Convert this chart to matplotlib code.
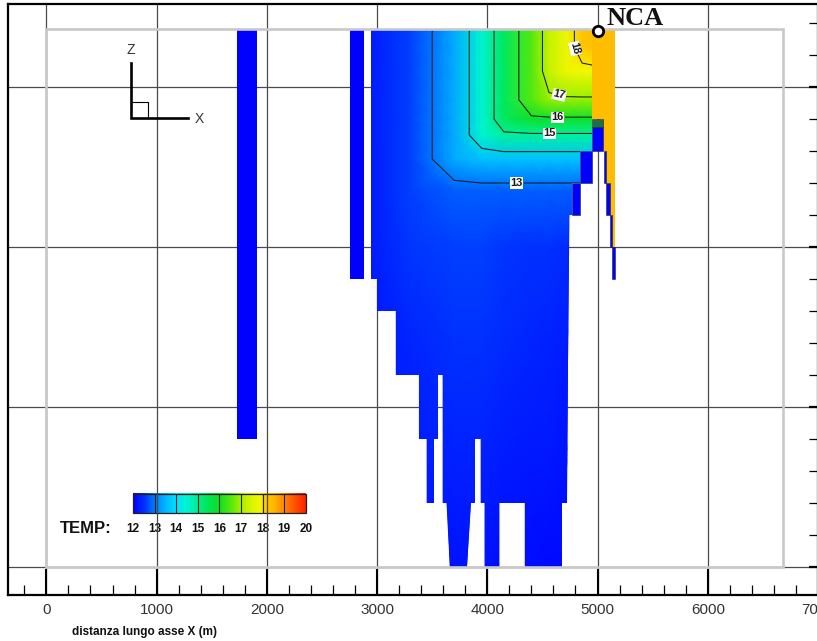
import numpy as np
import matplotlib
matplotlib.use("Agg")
import matplotlib.pyplot as plt
from matplotlib.colors import LinearSegmentedColormap, Normalize
from matplotlib.patches import Polygon, Rectangle
from matplotlib.ticker import MultipleLocator

plt.rcParams['font.family'] = ['Liberation Sans', 'DejaVu Sans']

# temperature scale (deg C)
temp_levels = [12, 13, 14, 15, 16, 17, 18, 19, 20]
plain_levels = [14]
label_levels = [13, 15, 16, 17, 18]
# where the contour labels sit (x m, z m)
label_spots = [(4266, -56), (4565, -26), (4638, -15), (4683, 3), (4792, 24)]

grid_x = [2945, 3300, 3700, 3950, 4150, 4400, 4560, 4720, 4860, 4950]
grid_z = [36, 25, 10, -8, -20, -30, -45, -65, -100, -160, -230, -300]
grid_temp = [
    [12.3, 12.6, 13.4, 14.5, 15.4, 16.5, 17.3, 17.8, 18.2, 18.4],
    [12.3, 12.6, 13.4, 14.5, 15.4, 16.5, 17.3, 17.8, 18.2, 18.3],
    [12.3, 12.6, 13.4, 14.5, 15.4, 16.5, 17.3, 17.8, 17.9, 17.9],
    [12.3, 12.6, 13.4, 14.5, 15.4, 16.5, 16.9, 16.9, 16.9, 16.9],
    [12.3, 12.6, 13.4, 14.5, 15.4, 15.9, 15.9, 15.9, 15.9, 15.9],
    [12.3, 12.6, 13.4, 14.5, 14.9, 14.9, 14.9, 14.9, 14.9, 14.9],
    [12.3, 12.6, 13.4, 13.6, 13.6, 13.6, 13.6, 13.6, 13.6, 13.6],
    [12.3, 12.6, 12.8, 12.8, 12.8, 12.8, 12.8, 12.8, 12.8, 12.8],
    [12.3, 12.55, 12.6, 12.6, 12.55, 12.5, 12.5, 12.45, 12.4, 12.4],
    [12.25, 12.4, 12.5, 12.5, 12.45, 12.4, 12.35, 12.3, 12.3, 12.3],
    [12.2, 12.3, 12.35, 12.35, 12.3, 12.25, 12.25, 12.2, 12.2, 12.2],
    [12.1, 12.15, 12.2, 12.2, 12.15, 12.15, 12.1, 12.1, 12.1, 12.1],
]

# outline of the main active body (x m, z m)
body_x = [2945, 4950, 4950, 4840, 4840, 4765, 4765, 4745, 4720, 4675, 4675,
          4340, 4340, 4110, 4110, 3975, 3975, 3940, 3940, 3885, 3885, 3850,
          3815, 3660, 3630, 3595, 3595, 3550, 3550, 3515, 3515, 3450, 3450,
          3380, 3380, 3170, 3170, 3000, 3000, 2945]
body_z = [36, 36, -40, -40, -60, -60, -80, -80, -260, -260, -300,
          -300, -260, -260, -300, -300, -260, -260, -220, -220, -260, -260,
          -300, -300, -260, -260, -180, -180, -220, -220, -260, -260, -220,
          -220, -180, -180, -140, -140, -120, -120]

# isolated cold columns
col_x0 = [1730, 2750]
col_x1 = [1910, 2880]
col_top = [36, 36]
col_bot = [-220, -120]

# cold cells next to the well
cell_x0 = [4950, 4840, 4765, 5055, 5080, 5110, 5135]
cell_x1 = [5050, 4950, 4840, 5080, 5110, 5135, 5160]
cell_top = [-25, -40, -60, -40, -60, -80, -100]
cell_bot = [-40, -60, -80, -60, -80, -100, -120]

# hot column along the NCA well
hot_x0 = [4950, 5050, 5080, 5110, 5135]
hot_x1 = [5160, 5160, 5160, 5160, 5155]
hot_top = [36, -20, -40, -60, -80]
hot_bot = [-20, -40, -60, -80, -100]
hot_temp = 18.4

well_x, well_z = 5000, 35

cmap = LinearSegmentedColormap.from_list("temp", [
    (0.0, "#0000ff"), (0.0625, "#0030ff"), (0.125, "#0080ff"),
    (0.1875, "#00b8ff"), (0.25, "#00e4ff"), (0.3125, "#00f4d0"),
    (0.375, "#00ee90"), (0.4375, "#00e650"), (0.5, "#10e020"),
    (0.5625, "#50e810"), (0.625, "#a8f000"), (0.6875, "#dcf400"),
    (0.74, "#f4f800"), (0.75, "#ffd000"), (0.8125, "#ffb800"),
    (0.875, "#ff8800"), (0.9375, "#ff5000"), (1.0, "#ff2000")])
norm = Normalize(12, 20)

fig = plt.figure(figsize=(8.17, 6.41), dpi=100)
ax = fig.add_axes([8 / 817, 46 / 641, 810 / 817, 591 / 641])
ax.set_axisbelow(True)

# colour legend (under the grid, as in the source)
cb_x0, cb_x1, cb_z0, cb_z1 = 785, 2353, -266.3, -254.4
ax.imshow(np.linspace(12, 20, 400)[None, :], extent=[cb_x0, cb_x1, cb_z0, cb_z1],
          aspect='auto', cmap=cmap, norm=norm, interpolation='bilinear', zorder=0.2)
cb_pos = np.interp(temp_levels, [12, 20], [cb_x0, cb_x1])
ax.vlines(cb_pos[1:-1], cb_z0, cb_z1, colors='#202020', lw=0.8, zorder=0.3)
ax.add_patch(Rectangle((cb_x0, cb_z0), cb_x1 - cb_x0, cb_z1 - cb_z0, fill=False,
                       ec='#202020', lw=0.9, zorder=0.3))
for t, xp in zip(temp_levels, cb_pos):
    ax.text(xp, -276, str(t), ha='center', va='center', fontsize=8.5,
            fontweight='bold', color='#111111', zorder=0.3)
ax.text(124, -276, "TEMP:", ha='left', va='center', fontsize=12,
        fontweight='bold', color='#111111', zorder=0.3)

# model domain frame
ax.add_patch(Rectangle((0, -300), 6680, 336, fill=False, ec='#c8c8c8', lw=1.9, zorder=6))

# isolated columns
ax.bar(col_x0, np.subtract(col_top, col_bot), width=np.subtract(col_x1, col_x0),
       bottom=col_bot, align='edge', color=cmap(norm(12)), lw=0, zorder=2)

# main body with temperature field
body = Polygon(np.column_stack([body_x, body_z]), closed=True,
               fc=cmap(norm(12.2)), ec='none', zorder=1.5)
ax.add_patch(body)
X, Z = np.meshgrid(grid_x, grid_z)
T = np.array(grid_temp)
mesh = ax.pcolormesh(X, Z, T, shading='gouraud', cmap=cmap, norm=norm, zorder=2)
mesh.set_clip_path(body)
cs_plain = ax.contour(X, Z, T, levels=plain_levels, colors='#1a1a1a', linewidths=0.75, zorder=3)
cs_plain.set_clip_path(body)
cs = ax.contour(X, Z, T, levels=label_levels, colors='#1a1a1a', linewidths=0.75, zorder=3)
cs.set_clip_path(body)
labels = cs.clabel(manual=label_spots, fmt='%d', fontsize=8,
                   inline=True, inline_spacing=1)
for lab in labels:
    lab.set_fontweight('bold')
    lab.set_bbox(dict(boxstyle='square,pad=0.05', fc='white', ec='none'))
    lab.set_zorder(4)

# hot column and cold cells beside the well
ax.bar(hot_x0, np.subtract(hot_top, hot_bot), width=np.subtract(hot_x1, hot_x0),
       bottom=hot_bot, align='edge', color=cmap(norm(hot_temp)), lw=0, zorder=2.5)
ax.bar(cell_x0, np.subtract(cell_top, cell_bot), width=np.subtract(cell_x1, cell_x0),
       bottom=cell_bot, align='edge', color=cmap(norm(12)), ec='#202050', lw=0.4, zorder=2.6)
ax.bar([4950], [5], width=[100], bottom=[-25], align='edge', color='#1e6e4a',
       ec='#202020', lw=0.4, zorder=2.6)

# well marker
ax.plot(well_x, well_z, 'o', ms=7.5, mfc='white', mec='black', mew=2.0,
        zorder=10, clip_on=False)
ax.text(5080, 38.5, "NCA", ha='left', va='baseline', fontsize=19, fontweight='bold',
        family=['Liberation Serif', 'DejaVu Serif'], color='#111111', zorder=10)

# axis orientation glyph
ax.plot([764, 764, 1284], [15, -19.4, -19.4], color='black', lw=1.9, zorder=5,
        solid_joinstyle='miter')
ax.plot([764, 921, 921], [-9.4, -9.4, -19.4], color='black', lw=0.8, zorder=5)
ax.text(767, 23, "Z", ha='center', va='center', fontsize=10, color='#333333')
ax.text(1383, -20, "X", ha='center', va='center', fontsize=10, color='#333333')

# axes, ticks, grid
ax.set_xlim(-348, 7000)
ax.set_ylim(-317.5, 51.9)
ax.xaxis.set_major_locator(MultipleLocator(1000))
ax.xaxis.set_minor_locator(MultipleLocator(200))
ax.yaxis.set_major_locator(MultipleLocator(100))
ax.yaxis.set_minor_locator(MultipleLocator(20))
ax.tick_params(axis='x', which='major', direction='in', length=19, width=1.5,
               pad=6, labelsize=11, labelcolor='#333333', top=False)
ax.tick_params(axis='x', which='minor', direction='in', length=7, width=0.9, top=False)
ax.tick_params(axis='y', which='both', direction='in', left=False, right=True,
               labelleft=False, labelright=False)
ax.tick_params(axis='y', which='major', length=6.5, width=1.6)
ax.tick_params(axis='y', which='minor', length=6.5, width=0.9)
for lab in ax.get_xticklabels():
    lab.set_fontfamily(['Liberation Sans Narrow', 'Liberation Sans'])
ax.grid(True, which='major', color='#4a4a4a', lw=0.9)
for side in ['left', 'top', 'bottom', 'right']:
    ax.spines[side].set_linewidth(1.6)

fig.text(72 / 817, 1 - 632 / 641, "distanza lungo asse X (m)", ha='left', va='center',
         fontsize=8.5, fontweight='bold', color='#111111')

fig.savefig("out.png", dpi=100)
